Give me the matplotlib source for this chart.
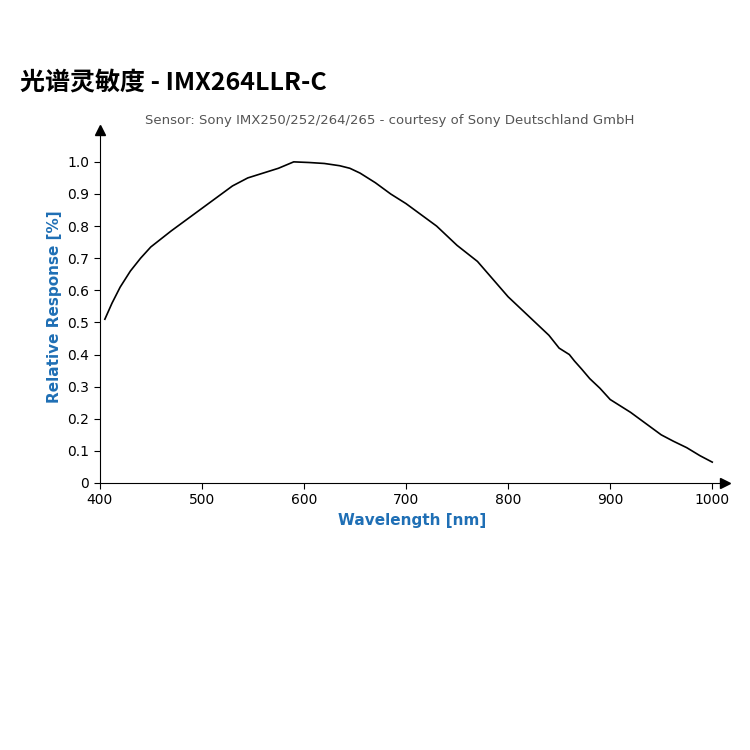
import numpy as np
import matplotlib.pyplot as plt
import matplotlib.font_manager as fm

wavelength = [405, 412, 420, 430, 440, 450, 460, 470, 485, 500, 515, 530, 545,
              560, 575, 590, 605, 620, 635, 645, 655, 670, 685, 700, 715, 730,
              740, 750, 760, 770, 785, 800, 815, 830, 840, 850, 860, 865, 872,
              880, 890, 900, 910, 920, 935, 950, 962, 975, 988, 1000]
response = [0.51, 0.56, 0.61, 0.66, 0.70, 0.735, 0.76, 0.785, 0.82, 0.855,
            0.89, 0.925, 0.95, 0.965, 0.98, 1.0, 0.998, 0.995, 0.988, 0.98,
            0.965, 0.935, 0.90, 0.87, 0.835, 0.80, 0.77, 0.74, 0.715, 0.69,
            0.635, 0.58, 0.535, 0.49, 0.46, 0.42, 0.40, 0.38, 0.355, 0.325,
            0.295, 0.26, 0.24, 0.22, 0.185, 0.15, 0.13, 0.11, 0.085, 0.065]
xticks = [400, 500, 600, 700, 800, 900, 1000]
yticks = [0, 0.1, 0.2, 0.3, 0.4, 0.5, 0.6, 0.7, 0.8, 0.9, 1.0]

cjk = [f.name for f in fm.fontManager.ttflist if 'CJK' in f.name]
title_font = ['Noto Sans CJK SC'] if 'Noto Sans CJK SC' in cjk else (cjk[:1] or ['DejaVu Sans'])

fig = plt.figure(figsize=(7.5, 7.5), dpi=100)
ax = fig.add_axes([0.133, 0.356, 0.833, 0.471])
ax.plot(wavelength, response, color='black', lw=1.2)
ax.set_xlim(400, 1012)
ax.set_ylim(0, 1.1)
ax.set_xticks(xticks)
ax.set_yticks(yticks)
ax.set_yticklabels(['0'] + [f'{v:.1f}' for v in yticks[1:]])
ax.tick_params(labelsize=10, length=4)
for s in ['top', 'right']:
    ax.spines[s].set_visible(False)
ax.plot(1, 0, '>k', transform=ax.transAxes, clip_on=False, ms=7)
ax.plot(0, 1, '^k', transform=ax.transAxes, clip_on=False, ms=7)
ax.set_xlabel('Wavelength [nm]', color='#1f6fb5', fontweight='bold', fontsize=11)
ax.set_ylabel('Relative Response [%]', color='#1f6fb5', fontweight='bold', fontsize=11)

fig.text(0.027, 0.88, '光谱灵敏度 - IMX264LLR-C', fontsize=18, fontweight='bold',
         fontfamily=title_font + ['DejaVu Sans'])
fig.text(0.52, 0.835, 'Sensor: Sony IMX250/252/264/265 - courtesy of Sony Deutschland GmbH',
         fontsize=9.5, color='#555555', ha='center')
fig.savefig('out.png')
